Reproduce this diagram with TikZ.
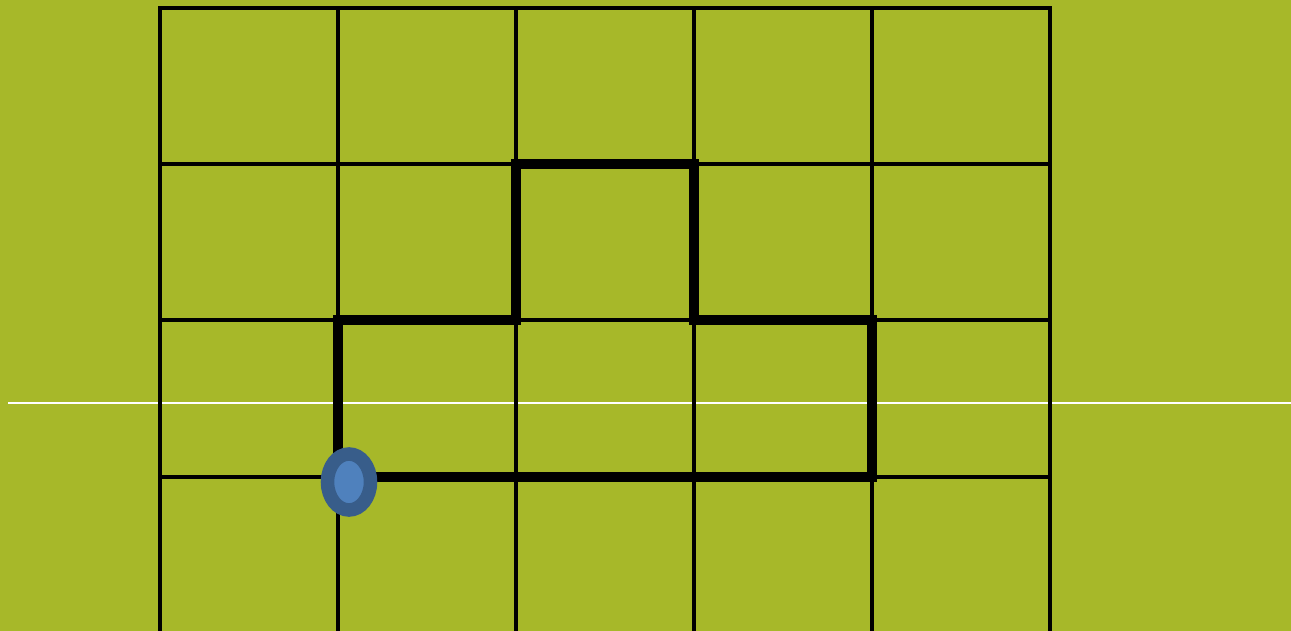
\documentclass[tikz,border=0pt]{standalone}
\usepackage{xcolor}
\usepackage{tikz}
\usetikzlibrary{calc,positioning,shapes.geometric}
\definecolor{FieldGreen}{HTML}{A7B829}
\definecolor{TokenBlue}{HTML}{4F81BD}
\definecolor{TokenBlueDark}{HTML}{385D8A}

\begin{document}
\begin{tikzpicture}[x=0.02cm,y=-0.02cm,
    gridline/.style={black,line width=2.2pt},
    routeline/.style={black,line width=5.3pt,line join=miter}]
  \fill[FieldGreen] (0,0) rectangle (1291,631);
  \useasboundingbox (0,0) rectangle (1291,631);
  \draw[white,line width=1.1pt] (8,403) -- (1291,403);
  \foreach \gx in {160,338,516,694,872,1050}
    \draw[gridline] (\gx,7.5) -- (\gx,631);
  \foreach \gy in {8,164,320,477}
    \draw[gridline] (158,\gy) -- (1052,\gy);
  \draw[routeline] (338,477) -- (338,320) -- (516,320) -- (516,164) -- (694,164)
    -- (694,320) -- (872,320) -- (872,477) -- cycle;
  \node[ellipse,draw=TokenBlueDark,fill=TokenBlue,line width=7.7pt,
    minimum width=0.86cm,minimum height=1.12cm,inner sep=0pt] (token) at (349,482) {};
\end{tikzpicture}
\end{document}
